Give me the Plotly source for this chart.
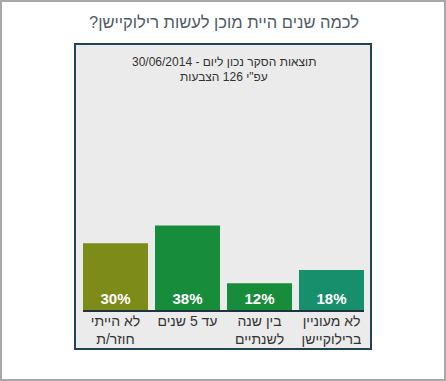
import plotly.graph_objects as go

categories = ["לא הייתי<br>חוזר/ת", "עד 5 שנים", "בין שנה<br>לשנתיים", "לא מעוניין<br>ברילוקיישן"]
values = [30, 38, 12, 18]
value_labels = ["30%", "38%", "12%", "18%"]
colors = ["#7d8b19", "#178c3a", "#178c3a", "#178f6c"]

title_text = "לכמה שנים היית מוכן לעשות רילוקיישן?\u200f"
subtitle_1 = "תוצאות הסקר נכון ליום - 30/06/2014"
subtitle_2 = "עפ\"י 126 הצבעות"

W, H = 446, 381
L, R = 83, 364      # plot area left/right in px
T, B = 210, 310     # plot area top/bottom in px
bar_frac = 65 / 72

def px_x(p):
    return (p - L) / (R - L)

def px_y(p):
    return (B - p) / (B - T)

xs = list(range(len(categories)))

fig = go.Figure(go.Bar(
    x=xs, y=values,
    marker=dict(color=colors, line=dict(width=0)),
    text=value_labels,
    textposition="inside",
    insidetextanchor="start",
    textangle=0,
    textfont=dict(family="Arial", size=15, color="white", weight="bold"),
    hoverinfo="skip",
))

fig.update_layout(
    width=W, height=H,
    margin=dict(l=L, r=W - R, t=T, b=H - B, pad=0),
    paper_bgcolor="white",
    plot_bgcolor="rgba(0,0,0,0)",
    bargap=1 - bar_frac,
    showlegend=False,
    xaxis=dict(
        range=[-bar_frac / 2, len(categories) - 1 + bar_frac / 2],
        tickmode="array", tickvals=xs, ticktext=categories,
        tickfont=dict(family="Arial", size=14, color="#333333"),
        ticklabelstandoff=-3,
        showgrid=False, zeroline=False,
        showline=True, linecolor="#1f3440", linewidth=2,
        ticks="", fixedrange=True,
    ),
    yaxis=dict(range=[0, 45], visible=False, fixedrange=True),
    shapes=[
        dict(type="rect", xref="paper", yref="paper", layer="below",
             x0=px_x(1), x1=px_x(445), y0=px_y(1), y1=px_y(380),
             line=dict(color="#a8a8a8", width=2), fillcolor="white"),
        dict(type="rect", xref="paper", yref="paper", layer="below",
             x0=px_x(75), x1=px_x(371), y0=px_y(44), y1=px_y(349),
             line=dict(color="#1f4457", width=2), fillcolor="#ebebeb"),
    ],
    annotations=[
        dict(text=title_text, xref="paper", yref="paper",
             x=px_x(224), y=px_y(22), showarrow=False,
             xanchor="center", yanchor="middle",
             font=dict(family="Arial", size=16.5, color="#4f5b66")),
        dict(text=subtitle_1, xref="paper", yref="paper",
             x=px_x(224), y=px_y(62), showarrow=False,
             xanchor="center", yanchor="middle",
             font=dict(family="Arial", size=12, color="#333333")),
        dict(text=subtitle_2, xref="paper", yref="paper",
             x=px_x(224), y=px_y(77), showarrow=False,
             xanchor="center", yanchor="middle",
             font=dict(family="Arial", size=12, color="#333333")),
    ],
)

fig.write_html("out.html", config={"displayModeBar": False},
               post_script="document.body.style.margin='0';document.body.style.overflow='hidden';")
